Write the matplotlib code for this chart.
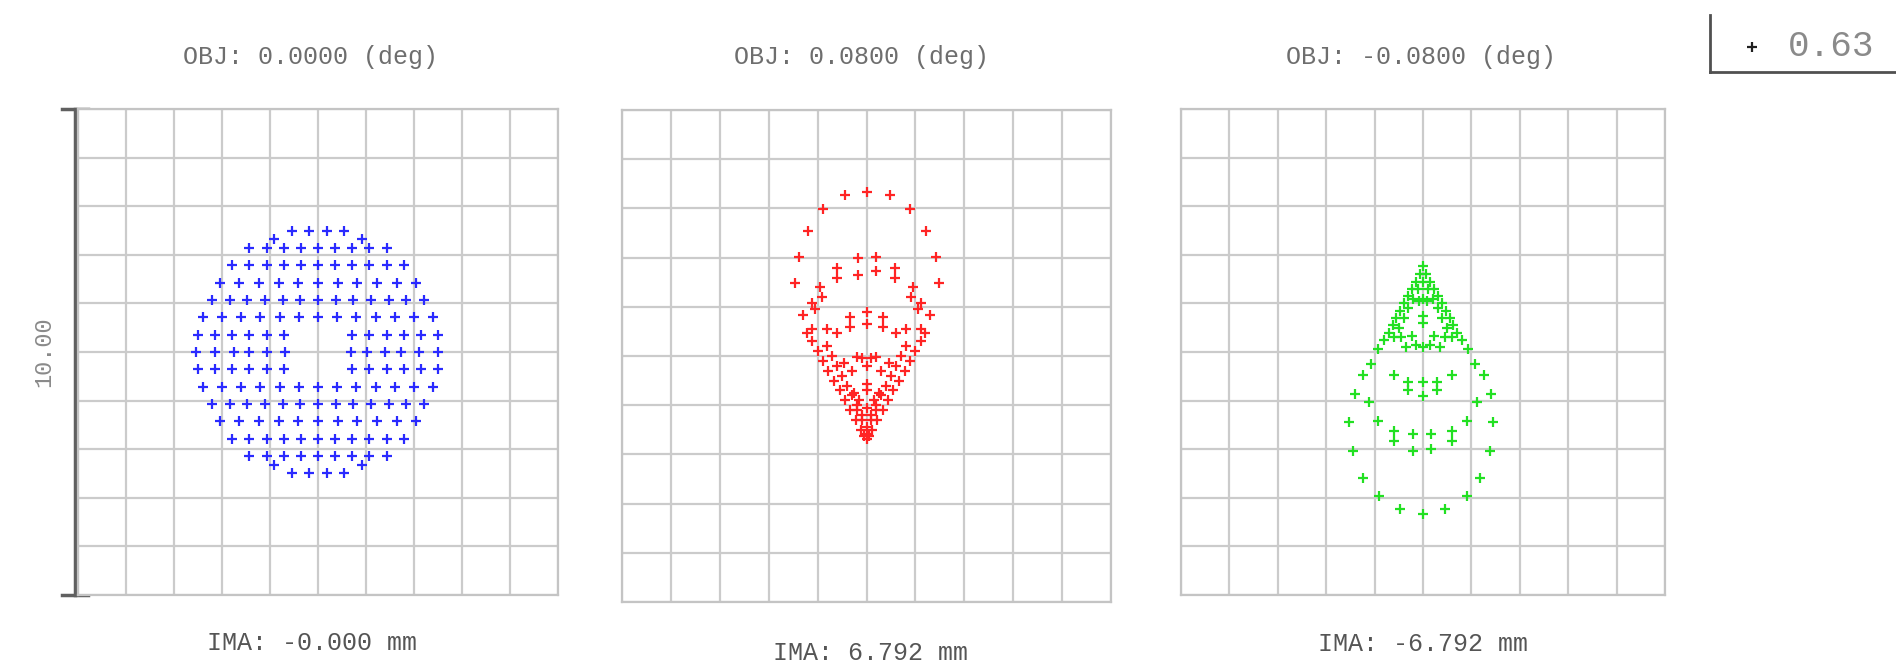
import matplotlib.pyplot as plt

# ---- dados (unidades da grade, caixa = -5..5) ----
titulos = ["OBJ: 0.0000 (deg)", "OBJ: 0.0800 (deg)", "OBJ: -0.0800 (deg)"]
rodapes = ["IMA: -0.000 mm", "IMA: 6.792 mm", "IMA: -6.792 mm"]
escala = "10.00"
legenda = "0.63"
cores = ["#2a2aff", "#ff2424", "#22e022"]

# painel 1: linhas (y) e posicoes x dos pontos em cada linha
r7 = [-0.54, -0.18, 0.18, 0.54]
r7b = [-0.92, 0.92]
r6 = [-1.43, -1.07, -0.71, -0.36, 0.00, 0.36, 0.71, 1.07, 1.43]
r5 = [-1.79, -1.43, -1.07, -0.71, -0.36, 0.00, 0.36, 0.71, 1.07, 1.43, 1.79]
r4 = [-2.05, -1.64, -1.23, -0.82, -0.41, 0.00, 0.41, 0.82, 1.23, 1.64, 2.05]
r3 = [-2.20, -1.83, -1.47, -1.10, -0.73, -0.37, 0.00, 0.37, 0.73, 1.10, 1.47, 1.83, 2.20]
r2 = [-2.40, -2.00, -1.60, -1.20, -0.80, -0.40, 0.00, 0.40, 0.80, 1.20, 1.60, 2.00, 2.40]
r1 = [-2.50, -2.14, -1.79, -1.43, -1.07, -0.71, 0.71, 1.07, 1.43, 1.79, 2.14, 2.50]
r0 = [-2.54, -2.14, -1.76, -1.43, -1.06, -0.68, 0.69, 1.03, 1.40, 1.73, 2.11, 2.51]
p1_y = [2.48, 2.33, 2.14, 1.79, 1.43, 1.07, 0.71, 0.36, 0.00,
        -0.36, -0.71, -1.07, -1.43, -1.79, -2.14, -2.33, -2.48]
p1_x = [r7, r7b, r6, r5, r4, r3, r2, r1, r0,
        r1, r2, r3, r4, r5, r6, r7b, r7]

# painel 2 (vermelho): pontos (x, y)
p2_pts = [
    # anel externo
    (0.00, 3.33), (-0.44, 3.27), (0.48, 3.27), (-0.88, 2.99), (0.88, 2.99),
    (-1.19, 2.54), (1.22, 2.54), (-1.39, 2.02), (1.43, 2.02), (-1.46, 1.48), (1.48, 1.48),
    (-0.95, 1.41), (0.95, 1.41), (-1.12, 1.07), (1.12, 1.07), (-1.29, 0.83), (1.29, 0.83),
    (-1.22, 0.46), (1.19, 0.46), (-1.12, 0.55), (1.12, 0.55),
    # anel interno
    (-0.61, 1.78), (-0.61, 1.58), (-0.17, 1.99), (-0.17, 1.65), (0.20, 2.02), (0.20, 1.72),
    (0.58, 1.78), (0.58, 1.58), (-0.92, 1.20), (0.92, 1.20), (-1.05, 0.95), (1.05, 0.95),
    # terceiro anel
    (-0.34, 0.80), (-0.34, 0.59), (0.00, 0.90), (0.00, 0.66), (0.34, 0.80), (0.34, 0.59),
    (-0.61, 0.46), (0.61, 0.46), (-0.80, 0.55), (0.80, 0.55),
    # V denso - borda externa
    (-1.11, 0.30), (-1.00, 0.10), (-0.89, -0.10), (-0.78, -0.30), (-0.66, -0.50),
    (-0.55, -0.70), (-0.44, -0.90), (-0.33, -1.10), (-0.22, -1.30), (-0.11, -1.50),
    (1.11, 0.30), (1.00, 0.10), (0.89, -0.10), (0.78, -0.30), (0.66, -0.50),
    (0.55, -0.70), (0.44, -0.90), (0.33, -1.10), (0.22, -1.30), (0.11, -1.50),
    (0.00, -1.69),
    # V denso - borda interna
    (-0.80, 0.20), (-0.70, 0.00), (-0.60, -0.20), (-0.50, -0.40), (-0.40, -0.60),
    (-0.30, -0.80), (-0.20, -1.00), (-0.10, -1.20),
    (0.80, 0.20), (0.70, 0.00), (0.60, -0.20), (0.50, -0.40), (0.40, -0.60),
    (0.30, -0.80), (0.20, -1.00), (0.10, -1.20),
    # interior
    (-0.10, -0.05), (0.10, -0.05), (-0.20, -0.02), (0.20, -0.02), (0.00, -0.20),
    (0.00, -0.56), (0.00, -0.70), (-0.15, -0.90), (0.15, -0.90), (0.00, -1.05),
    (-0.10, -1.30), (0.10, -1.30), (0.00, -1.45), (0.00, -1.58), (-0.05, -1.62), (0.05, -1.62),
    (-0.30, -0.30), (0.30, -0.30), (-0.45, -0.15), (0.45, -0.15),
    (-0.25, -0.75), (0.25, -0.75), (-0.20, -1.10), (0.20, -1.10),
]

# painel 3 (verde): pontos (x, y)
p3_pts = [
    # triangulo - borda externa
    (0.00, 1.76), (-0.07, 1.60), (-0.15, 1.45), (-0.23, 1.30), (-0.31, 1.15), (-0.39, 1.00),
    (-0.47, 0.85), (-0.55, 0.70), (-0.63, 0.55), (-0.71, 0.40), (-0.80, 0.25), (-0.93, 0.07),
    (-1.07, -0.24), (-1.25, -0.48), (-1.40, -0.86),
    (0.07, 1.60), (0.15, 1.45), (0.23, 1.30), (0.31, 1.15), (0.39, 1.00),
    (0.47, 0.85), (0.55, 0.70), (0.63, 0.55), (0.71, 0.40), (0.80, 0.25), (0.93, 0.07),
    (1.07, -0.24), (1.25, -0.48), (1.40, -0.86),
    # triangulo - borda interna
    (-0.10, 1.30), (-0.20, 1.10), (-0.30, 0.90), (-0.40, 0.70), (-0.50, 0.50), (-0.60, 0.30),
    (0.10, 1.30), (0.20, 1.10), (0.30, 0.90), (0.40, 0.70), (0.50, 0.50), (0.60, 0.30),
    # interior
    (0.00, 1.45), (0.00, 1.10), (-0.08, 1.05), (0.08, 1.05), (0.00, 0.59), (0.00, 0.75),
    (-0.45, 0.30), (-0.22, 0.33), (0.00, 0.10), (0.22, 0.33), (0.45, 0.30),
    (-0.35, 0.10), (0.35, 0.10), (-0.15, 0.15), (0.15, 0.15),
    # meio
    (-0.59, -0.48), (0.59, -0.48), (-0.31, -0.62), (-0.31, -0.79), (0.00, -0.62), (0.00, -0.90),
    (0.28, -0.62), (0.28, -0.79), (-1.12, -1.03), (1.12, -1.03),
    # anel inferior
    (-1.52, -1.45), (-0.93, -1.41), (0.90, -1.41), (1.45, -1.45),
    (-0.59, -1.62), (-0.59, -1.83), (0.59, -1.62), (0.59, -1.83),
    (-0.21, -1.69), (-0.21, -2.03), (0.17, -1.69), (0.17, -2.00),
    (-1.45, -2.03), (1.38, -2.03), (-1.24, -2.59), (1.17, -2.59),
    (-0.90, -2.97), (0.90, -2.97), (-0.48, -3.24), (0.00, -3.34), (0.45, -3.24),
]

# ---- figura ----
W, H = 1896, 665
plt.rcParams['font.family'] = ['Liberation Mono', 'DejaVu Sans Mono']
fig = plt.figure(figsize=(W / 100, H / 100), dpi=100)

def caixa(x0, y0, x1, y1):
    return [x0 / W, 1 - y1 / H, (x1 - x0) / W, (y1 - y0) / H]

fundo = fig.add_axes([0, 0, 1, 1])
fundo.set_xlim(0, W)
fundo.set_ylim(H, 0)
fundo.axis('off')

paineis = [(78, 109, 558, 595), (622, 110, 1111, 602), (1181, 109, 1665, 595)]
tit_pos = [(311, 57), (862, 57), (1421, 57)]
rod_pos = [(312, 643), (871, 653), (1423, 644)]

eixos = []
for b in paineis:
    ax = fig.add_axes(caixa(*b))
    ax.set_xlim(-5, 5)
    ax.set_ylim(-5, 5)
    ax.set_xticks(range(-5, 6))
    ax.set_yticks(range(-5, 6))
    ax.tick_params(length=0, labelbottom=False, labelleft=False)
    ax.grid(True, color="#cbcbcb", lw=1.6)
    for s in ax.spines.values():
        s.set_color("#c4c4c4")
        s.set_linewidth(1.6)
    eixos.append(ax)

# pontos
estilo = dict(ls='none', marker='+', ms=7.5, mew=1.6)
for y, xs in zip(p1_y, p1_x):
    eixos[0].plot(xs, [y] * len(xs), color=cores[0], **estilo)
x2, y2 = zip(*p2_pts)
eixos[1].plot(x2, y2, color=cores[1], **estilo)
x3, y3 = zip(*p3_pts)
eixos[2].plot(x3, y3, color=cores[2], **estilo)

# textos
for t, (x, y) in zip(titulos, tit_pos):
    fundo.text(x, y, t, ha='center', va='center', fontsize=18, color="#6e6e6e")
for t, (x, y) in zip(rodapes, rod_pos):
    fundo.text(x, y, t, ha='center', va='center', fontsize=18, color="#555555")

# barra de escala
fundo.plot([75, 75], [109, 595], color="#606060", lw=2.5)
fundo.plot([62, 88], [109, 109], color="#606060", lw=2.5)
fundo.plot([62, 88], [595, 595], color="#606060", lw=2.5)
fundo.text(44, 352, escala, rotation=90, ha='center', va='center', fontsize=17, color="#8a8a8a")

# legenda canto
fundo.plot([1710, 1710], [15, 72], color="#505050", lw=2)
fundo.plot([1710, 1896], [72, 72], color="#505050", lw=2)
fundo.plot([1752], [47], '+', color="#202020", ms=7, mew=1.6)
fundo.text(1788, 47, legenda, ha='left', va='center', fontsize=26, color="#8a8a8a")

fig.savefig("out.png", dpi=100)
